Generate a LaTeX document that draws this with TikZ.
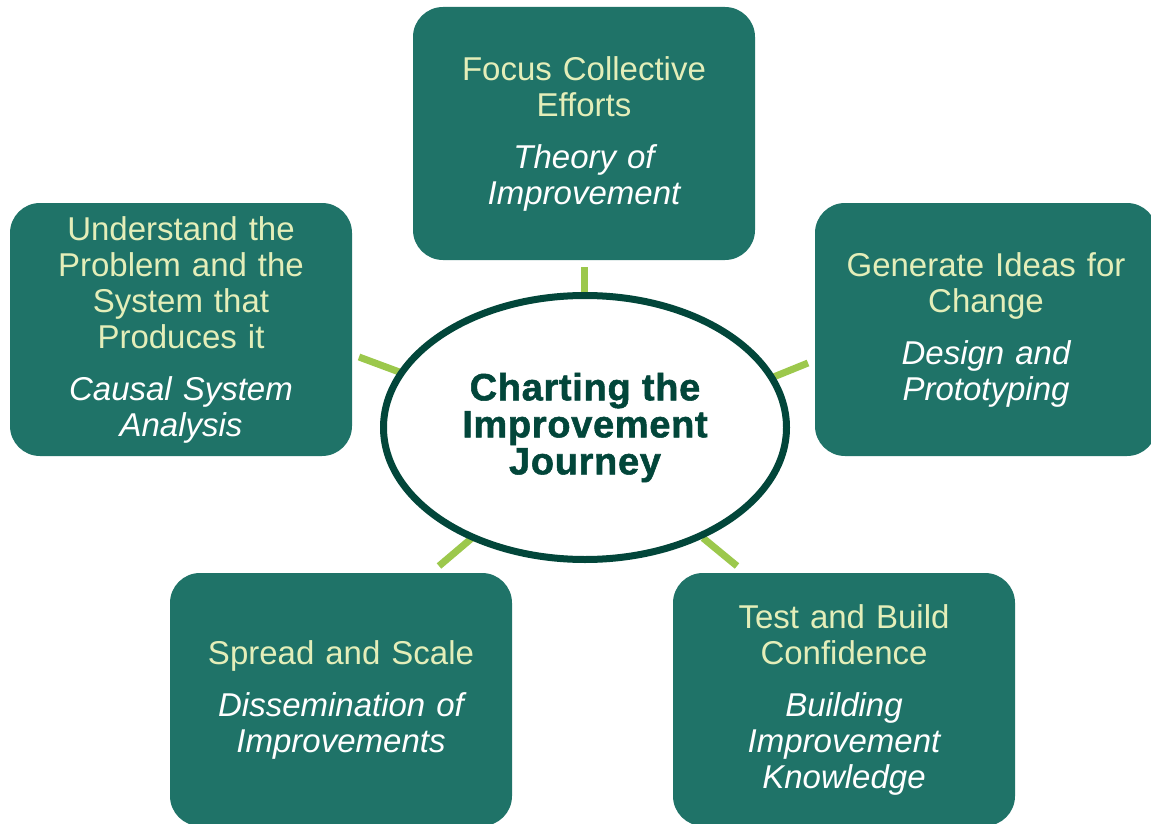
\documentclass[tikz,border=0pt]{standalone}
\usepackage{fontspec}
\setmainfont{Liberation Sans}
\newfontfamily\hubfont[FakeBold=1.4,LetterSpace=1.8]{Liberation Sans Bold}
\usetikzlibrary{shapes.geometric}
\definecolor{boxteal}{HTML}{1F7368}
\definecolor{headtxt}{HTML}{E4EEB9}
\definecolor{hubgreen}{HTML}{02463A}
\definecolor{spokegreen}{HTML}{9CC84C}
\begin{document}
\begin{tikzpicture}[x=1pt,y=-1pt,
  stage/.style={fill=boxteal, rounded corners=30pt, minimum width=342pt,
    minimum height=253pt, inner sep=0pt, text width=330pt, align=center,
    text=headtxt, font=\fontsize{33}{36}\selectfont},
  hub/.style={ellipse, draw=hubgreen, line width=7pt, fill=white,
    minimum width=403pt, minimum height=264pt, inner sep=0pt, align=center,
    text=hubgreen, font=\hubfont\fontsize{38}{37}\selectfont},
  spoke/.style={draw=spokegreen, line width=7pt}
]
\useasboundingbox (0,0) rectangle (1151,824);

% outer stages
\node[stage] (focus) at (584,133.5)
  {Focus Collective\\Efforts\\[16pt]{\color{white}\itshape Theory of\\Improvement}};
\node[stage] (understand) at (181,329.5)
  {Understand the\\Problem and the\\System that\\Produces it\\[16pt]{\color{white}\itshape Causal System\\Analysis}};
\node[stage] (generate) at (986,329.5)
  {Generate Ideas for\\Change\\[16pt]{\color{white}\itshape Design and\\Prototyping}};
\node[stage] (spread) at (341,699.5)
  {Spread and Scale\\[16pt]{\color{white}\itshape Dissemination of\\Improvements}};
\node[stage] (test) at (844,699.5)
  {Test and Build\\Confidence\\[16pt]{\color{white}\itshape Building\\Improvement\\Knowledge}};

% spoke end points
\coordinate (sF1) at (584,296);  \coordinate (sF2) at (584,267);
\coordinate (sU1) at (402,373);  \coordinate (sU2) at (359,357);
\coordinate (sG1) at (771,378);  \coordinate (sG2) at (808,363);
\coordinate (sS1) at (472,538);  \coordinate (sS2) at (439,566);
\coordinate (sT1) at (703,538);  \coordinate (sT2) at (737,566);

\draw[spoke] (sF1) -- (sF2);
\draw[spoke] (sU1) -- (sU2);
\draw[spoke] (sG1) -- (sG2);
\draw[spoke] (sS1) -- (sS2);
\draw[spoke] (sT1) -- (sT2);

% central hub
\node[hub] (journey) at (585,427.5) {Charting the\\Improvement\\Journey};
\end{tikzpicture}
\end{document}
